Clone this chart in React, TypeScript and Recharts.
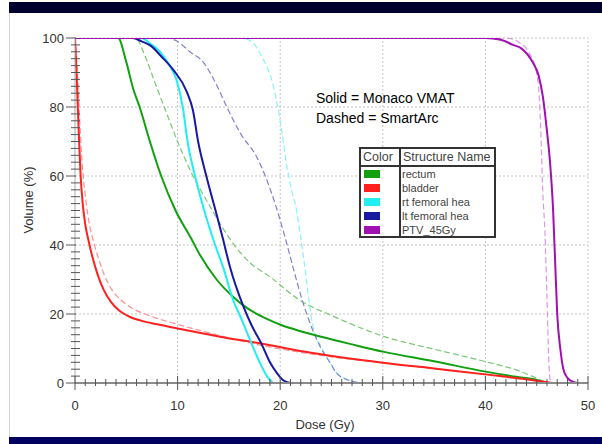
import React from "react";
import { LineChart, Line, XAxis, YAxis, ReferenceLine } from "recharts";

// dose (Gy), volume (%) pairs
const rectumVmat = [[0, 100], [4.2, 100], [5, 93], [5.7, 85], [6.3, 80], [7.3, 70], [8.4, 60], [9.8, 50], [11.3, 42], [12.2, 37], [13.8, 30], [15.4, 25], [16.4, 22.5], [17.5, 20.4], [18.7, 18.6], [20.1, 16.8], [22, 15], [24, 13.4], [27, 11.2], [30, 9.1], [35, 6.3], [40, 3.3], [43, 1.8], [45, 0.9], [46, 0]];
const rectumSmartArc = [[0, 100], [5.9, 100], [6.8, 95], [7.8, 87], [8.7, 80], [10, 70], [11.5, 60], [13, 52], [15.4, 40.5], [17, 35], [19, 30.8], [21.9, 24], [24.9, 19.7], [27, 17], [30, 13.6], [35, 9.8], [40, 6.2], [43, 3.8], [46, 0]];
const bladderVmat = [[0, 100], [0.12, 92], [0.25, 82], [0.4, 70], [0.55, 60], [0.75, 52], [1, 46], [1.3, 41.5], [1.7, 36.5], [2.2, 31.5], [2.8, 27], [3.5, 23.5], [4.3, 21], [5.3, 19.2], [6.5, 18], [8, 17], [10, 15.8], [14, 13.5], [18, 11.5], [23, 8.8], [30, 5.9], [35, 4.2], [40, 2.5], [44, 1.1], [46.5, 0]];
const bladderSmartArc = [[0, 100], [0.2, 92], [0.4, 80], [0.6, 68], [0.8, 60], [1.1, 52], [1.4, 46], [1.8, 41], [2.3, 36], [2.9, 31], [3.6, 27], [4.5, 24], [5.5, 21.8], [7, 19.8], [10, 17], [14, 13.8], [18, 11], [23, 8.4], [30, 5.8], [40, 2.4], [46.5, 0]];
const rtFemurVmat = [[0, 100], [6.4, 100], [7.5, 98], [8.3, 96], [9.1, 92.6], [9.9, 87.8], [10.5, 80], [11, 69.5], [11.7, 60], [12.4, 52], [13.6, 40.5], [14.5, 33], [15.3, 25], [16.3, 18], [17.2, 11.5], [18, 6], [18.7, 2], [19.3, 0]];
const rtFemurSmartArc = [[0, 100], [16.1, 100], [17.2, 99], [18.2, 94.6], [18.8, 91], [19.3, 86.5], [19.7, 81], [20, 76], [20.3, 70], [20.6, 63.7], [21.1, 56], [21.6, 50], [22, 42], [22.4, 33.7], [22.8, 24], [23.2, 16.3], [24, 10.5], [24.9, 5.7], [25.5, 3], [26.5, 1.1], [27.8, 0]];
const ltFemurVmat = [[0, 100], [5.6, 100], [6.5, 99], [7.5, 97.5], [8.3, 95], [9.6, 90.7], [10.9, 84.4], [11.5, 79], [12, 70], [12.8, 60], [13.7, 50], [14.4, 42], [15.1, 33.7], [16.4, 22.3], [17.2, 16.8], [18.2, 11.2], [19, 6], [19.7, 2.8], [20.3, 0.8], [21, 0]];
const ltFemurSmartArc = [[0, 100], [8.9, 100], [10, 99], [11.2, 96], [12.5, 93], [13.7, 87], [14.8, 80], [16.2, 72], [17.7, 65.6], [19.5, 52], [20.4, 43], [21.3, 33], [22.2, 23.5], [22.9, 17.4], [23.9, 10.5], [24.9, 5.7], [25.5, 2.8], [27, 0.5], [28, 0]];
const ptvVmat = [[0, 100], [40, 100], [41.5, 99.5], [42.7, 98], [43.5, 97], [44.6, 93], [45.2, 89], [45.6, 83], [46, 73], [46.3, 64], [46.6, 50], [46.8, 35], [47, 20], [47.3, 10], [47.6, 4], [48, 1.5], [48.5, 0.4], [49, 0]];
const ptvSmartArc = [[0, 100], [42, 100], [43.4, 98.5], [44.3, 95.5], [44.9, 91], [45.2, 85], [45.4, 73], [45.6, 55], [45.8, 44], [46, 25], [46.2, 5], [46.3, 1], [46.4, 0]];

const structureNames = ["rectum", "bladder", "rt femoral hea", "lt femoral hea", "PTV_45Gy"];
const structureColors = ["#10a010", "#ff2020", "#22eef2", "#1818a0", "#a010b0"];
const dashedColors = ["#78c878", "#ff9090", "#88f4f8", "#8080cc", "#dc98e4"];

const doseLabels = [0, 10, 20, 30, 40, 50];
const volumeLabels = [0, 20, 40, 60, 80, 100];
const doseMinor = Array.from({ length: 51 }, (_, i) => i);
const volumeMinor = Array.from({ length: 51 }, (_, i) => i * 2);

const FONT = "'Liberation Sans', Arial, sans-serif";

const toPoints = (arr: number[][]) => arr.map(([dose, vol]) => ({ dose, vol }));

const vmat = [rectumVmat, bladderVmat, rtFemurVmat, ltFemurVmat, ptvVmat];
const smartArc = [rectumSmartArc, bladderSmartArc, rtFemurSmartArc, ltFemurSmartArc, ptvSmartArc];

const DoseTick = (props: any) => {
  const { x, y, payload } = props;
  const major = doseLabels.includes(payload.value);
  return (
    <g>
      <line x1={x} x2={x} y1={y - (major ? 7 : 4)} y2={y + (major ? 7 : 3)} stroke="#555" />
      {major && (
        <text x={x} y={y + 27} textAnchor="middle" fill="#333" fontSize={13} fontFamily={FONT}>
          {payload.value}
        </text>
      )}
    </g>
  );
};

const VolumeTick = (props: any) => {
  const { x, y, payload } = props;
  const major = volumeLabels.includes(payload.value);
  return (
    <g>
      {major ? (
        <line x1={x - 9} x2={x + 1} y1={y} y2={y} stroke="#555" />
      ) : (
        <line x1={x - 4} x2={x + 5} y1={y} y2={y} stroke="#555" />
      )}
      {major && (
        <text x={x - 11} y={y + 4.5} textAnchor="end" fill="#333" fontSize={13} fontFamily={FONT}>
          {payload.value}
        </text>
      )}
    </g>
  );
};

function DvhChart() {
  return (
    <div style={{ position: "absolute", left: 0, top: 0, width: 602, height: 444, background: "#fff", fontFamily: FONT }}>
      <div style={{ position: "absolute", left: 9, top: 2, width: 593, height: 11, background: "#00002e" }} />
      <div style={{ position: "absolute", left: 9, top: 13, width: 1, height: 424, background: "#d4d4e4" }} />
      <div style={{ position: "absolute", left: 9, top: 437, width: 593, height: 7, background: "#000060" }} />

      <div style={{ position: "absolute", left: 0, top: 0 }}>
        <LineChart width={602} height={444} margin={{ top: 38, right: 14, left: 15, bottom: 31 }}>
          <XAxis
            dataKey="dose"
            type="number"
            domain={[0, 50]}
            ticks={doseMinor}
            interval={0}
            tickLine={false}
            tickSize={0}
            tickMargin={0}
            tick={<DoseTick />}
            axisLine={{ stroke: "#8a8a8a", strokeWidth: 2 }}
            height={30}
            allowDataOverflow
          />
          <YAxis
            type="number"
            domain={[0, 100]}
            ticks={volumeMinor}
            interval={0}
            tickLine={false}
            tickSize={0}
            tickMargin={0}
            tick={<VolumeTick />}
            axisLine={{ stroke: "#aaa" }}
            width={60}
            allowDataOverflow
          />
          {volumeLabels.slice(1).map((v) => (
            <ReferenceLine key={`h${v}`} y={v} stroke="#c4c4c4" strokeDasharray="2 2" />
          ))}
          {doseLabels.slice(1).map((d) => (
            <ReferenceLine key={`v${d}`} x={d} stroke="#c4c4c4" strokeDasharray="2 2" />
          ))}
          {smartArc.map((s, i) => (
            <Line
              key={`d${i}`}
              data={toPoints(s)}
              dataKey="vol"
              type="monotone"
              stroke={dashedColors[i]}
              strokeWidth={1.2}
              strokeDasharray="6 3"
              dot={false}
              isAnimationActive={false}
            />
          ))}
          {vmat.map((s, i) => (
            <Line
              key={`s${i}`}
              data={toPoints(s)}
              dataKey="vol"
              type="monotone"
              stroke={structureColors[i]}
              strokeWidth={2}
              dot={false}
              isAnimationActive={false}
            />
          ))}
        </LineChart>
      </div>

      <div style={{ position: "absolute", left: 325, top: 424, transform: "translate(-50%, -50%)", fontSize: 13, color: "#333", whiteSpace: "nowrap" }}>
        Dose (Gy)
      </div>
      <div style={{ position: "absolute", left: 28, top: 200, transform: "translate(-50%, -50%) rotate(-90deg)", fontSize: 13, color: "#333", whiteSpace: "nowrap" }}>
        Volume (%)
      </div>

      <div style={{ position: "absolute", left: 316, top: 88, fontSize: 14, lineHeight: "20px", color: "#000", whiteSpace: "nowrap" }}>
        <div>Solid = Monaco VMAT</div>
        <div>Dashed = SmartArc</div>
      </div>

      <div style={{ position: "absolute", left: 359, top: 147, width: 133, height: 87, border: "2px solid #333", background: "#fff" }}>
        <div style={{ position: "absolute", left: 38, top: 0, width: 2, height: 87, background: "#333" }} />
        <div style={{ position: "absolute", left: 0, top: 16, width: 133, height: 2, background: "#333" }} />
        <div style={{ position: "absolute", left: 2, top: 0, fontSize: 12.5, color: "#444", lineHeight: "17px" }}>Color</div>
        <div style={{ position: "absolute", left: 42, top: 0, fontSize: 12.5, color: "#444", lineHeight: "17px", whiteSpace: "nowrap" }}>Structure Name</div>
        {structureNames.map((name, i) => (
          <React.Fragment key={name}>
            <div style={{ position: "absolute", left: 3, top: 21 + i * 14, width: 16, height: 8, background: structureColors[i] }} />
            <div style={{ position: "absolute", left: 41, top: 18 + i * 14, fontSize: 11, color: "#444", lineHeight: "14px", whiteSpace: "nowrap" }}>{name}</div>
          </React.Fragment>
        ))}
      </div>
    </div>
  );
}

export default function App() {
  return <DvhChart />;
}
